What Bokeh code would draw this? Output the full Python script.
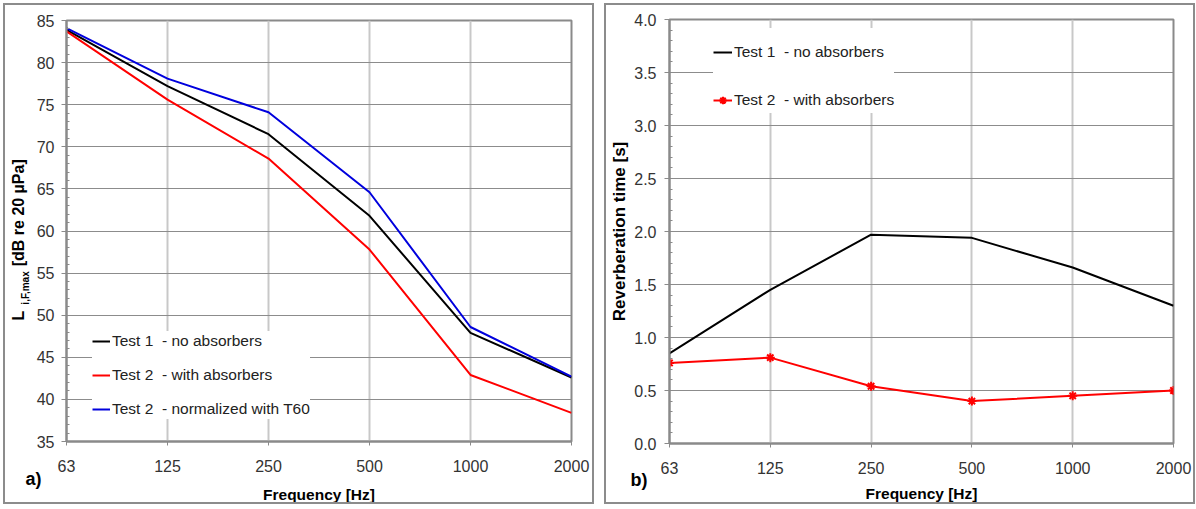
from bokeh.plotting import figure
from bokeh.models import (Legend, LegendItem, LinearAxis, FixedTicker, Title,
                          SingleIntervalTicker, NumeralTickFormatter)
from bokeh.layouts import row, column
from bokeh.embed import file_html
from bokeh.resources import INLINE

# ---------------- data ----------------
freq_labels = ["63", "125", "250", "500", "1000", "2000"]
lmax_test1 = [83.9, 77.2, 71.5, 61.8, 47.9, 42.6]
lmax_test2 = [83.7, 75.6, 68.6, 57.8, 42.9, 38.4]
lmax_test2_norm = [84.1, 78.1, 74.1, 64.6, 48.6, 42.7]
rt_test1 = [0.85, 1.45, 1.97, 1.94, 1.66, 1.30]
rt_test2 = [0.76, 0.81, 0.54, 0.40, 0.45, 0.50]

labels_left = ["Test 1  - no absorbers", "Test 2  - with absorbers",
               "Test 2  - normalized with T60"]
labels_right = ["Test 1  - no absorbers", "Test 2  - with absorbers"]

x = list(range(len(freq_labels)))
FONT = "Liberation Sans"
GRAY = "#8a8a8a"
NB = "\u00a0"


def blank_axis(ax, tick):
    ax.ticker = FixedTicker(ticks=[tick])
    ax.major_label_overrides = {tick: ""}
    ax.major_label_text_font_size = "1px"
    ax.major_label_standoff = 0
    ax.axis_line_color = None
    ax.major_tick_line_color = None
    ax.minor_tick_line_color = None
    ax.major_tick_in = 0
    ax.major_tick_out = 0
    ax.minor_tick_in = 0
    ax.minor_tick_out = 0
    ax.axis_label_text_font = FONT
    ax.axis_label_text_font_style = "bold"
    ax.axis_label_text_color = "black"


def style(p, y_ticker, panel_tag, tag_offset, tag_standoff, freq_standoff):
    p.outline_line_color = GRAY
    p.outline_line_width = 2
    p.background_fill_color = "white"
    p.border_fill_color = "white"
    for ax in (p.xaxis[0], p.yaxis[0]):
        ax.axis_line_color = GRAY
        ax.axis_line_width = 2
        ax.major_tick_line_color = GRAY
        ax.major_tick_line_width = 1
        ax.major_label_text_font = FONT
        ax.major_label_text_font_size = "16px"
        ax.major_label_text_color = "#333333"
        ax.axis_label_text_font = FONT
        ax.axis_label_text_font_style = "bold"
        ax.axis_label_text_color = "black"
    xa = p.xaxis[0]
    xa.ticker = FixedTicker(ticks=x)
    xa.major_label_overrides = {i: lab for i, lab in enumerate(freq_labels)}
    xa.minor_tick_line_color = None
    xa.major_tick_out = 4
    xa.major_tick_in = 0
    xa.major_label_standoff = 14
    ya = p.yaxis[0]
    ya.ticker = y_ticker
    ya.major_tick_out = 5
    ya.major_tick_in = 0
    ya.minor_tick_in = 3
    ya.minor_tick_out = 0
    ya.minor_tick_line_color = GRAY
    ya.major_label_standoff = 7
    p.xgrid.grid_line_color = "#c8c8c8"
    p.xgrid.grid_line_width = 2
    p.ygrid.grid_line_color = "#8c8c8c"
    p.ygrid.grid_line_width = 1
    # panel tag "a)" / "b)" just below the tick labels, left of the frame
    tag = Title(text=panel_tag, align="left", vertical_align="top",
                offset=tag_offset, standoff=tag_standoff, text_font=FONT,
                text_font_style="bold", text_font_size="18px",
                text_color="black")
    p.add_layout(tag, "below")
    # x axis title
    ft = Title(text="Frequency [Hz]", align="center", vertical_align="bottom",
               standoff=freq_standoff, text_font=FONT, text_font_style="bold",
               text_font_size="15.5px", text_color="black")
    p.add_layout(ft, "below")


panel_style = {"outline": "2px solid #8c8c8c"}

# ---------------- panel a ----------------
p1 = figure(width=587, height=497, x_range=(0, 5), y_range=(35, 85),
            output_backend="svg", toolbar_location=None,
            min_border_left=61, min_border_right=21,
            min_border_top=15, min_border_bottom=61, styles=panel_style)
style(p1, SingleIntervalTicker(interval=5, num_minor_ticks=5), "a)", -41,
      -12, -1)

# y label: L with subscript i,F,max
p1.yaxis[0].axis_label = "i,F,max" + NB * 41
p1.yaxis[0].axis_label_text_font_size = "10px"
p1.yaxis[0].axis_label_standoff = 3
ly = LinearAxis()
blank_axis(ly, 35)
ly.axis_label = "L" + NB * 10 + "[dB re 20 µPa]" + NB * 4
ly.axis_label_text_font_size = "16px"
ly.axis_label_standoff = -10
p1.add_layout(ly, "left")

r1 = p1.line(x, lmax_test1, line_color="black", line_width=2)
r2 = p1.line(x, lmax_test2, line_color="#ff0000", line_width=2)
r3 = p1.line(x, lmax_test2_norm, line_color="#0000dd", line_width=2)

leg1 = Legend(items=[LegendItem(label=labels_left[0], renderers=[r1]),
                     LegendItem(label=labels_left[1], renderers=[r2]),
                     LegendItem(label=labels_left[2], renderers=[r3])],
              location=(26, 22), margin=0, padding=12, spacing=14,
              glyph_width=18, glyph_height=20, label_standoff=2,
              label_text_font=FONT, label_text_font_size="15.5px",
              label_text_color="#222222", border_line_color=None,
              background_fill_color="white", background_fill_alpha=1.0)
p1.add_layout(leg1)

# ---------------- panel b ----------------
p2 = figure(width=587, height=497, x_range=(0, 5), y_range=(0, 4),
            output_backend="svg", toolbar_location=None,
            min_border_left=63, min_border_right=20,
            min_border_top=14, min_border_bottom=59, styles=panel_style)
style(p2, SingleIntervalTicker(interval=0.5, num_minor_ticks=5), "b)", -39,
      -14, -4)
p2.yaxis[0].formatter = NumeralTickFormatter(format="0.0")
p2.yaxis[0].major_label_standoff = 8
p2.yaxis[0].axis_label = "Reverberation time [s]"
p2.yaxis[0].axis_label_text_font_size = "17px"
p2.yaxis[0].axis_label_standoff = 2

s1 = p2.line(x, rt_test1, line_color="black", line_width=2)
s2 = p2.line(x, rt_test2, line_color="#ff0000", line_width=2)
s2m = p2.scatter(x, rt_test2, marker="asterisk", size=9,
                 line_color="#ff0000", line_width=2)

leg2 = Legend(items=[LegendItem(label=labels_right[0], renderers=[s1]),
                     LegendItem(label=labels_right[1], renderers=[s2, s2m])],
              location=(44, 330), margin=0, padding=8, spacing=22,
              glyph_width=19, glyph_height=26, label_standoff=2,
              title=" ", title_text_font_size="8px", title_standoff=2,
              label_text_font=FONT, label_text_font_size="15.5px",
              label_text_color="#222222", border_line_color=None,
              background_fill_color="white", background_fill_alpha=1.0)
p2.add_layout(leg2)

layout = row(p1, column(p2), spacing=14,
             styles={"margin-left": "5px", "margin-top": "5px"})

open("out.html", "w").write(file_html(layout, INLINE))
